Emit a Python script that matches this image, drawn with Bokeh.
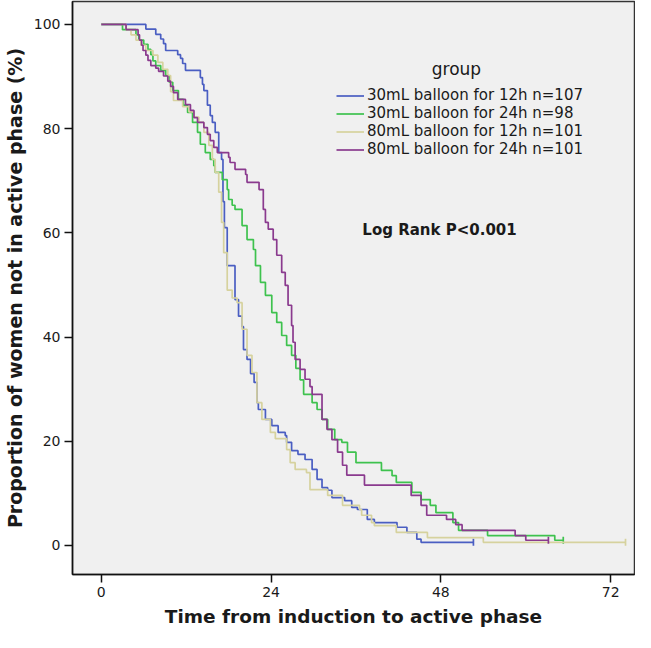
from bokeh.plotting import figure
from bokeh.models import Range1d, FixedTicker, Legend, LegendItem, Label
from bokeh.embed import file_html
from bokeh.resources import INLINE
import math

# ---- data ----
groups = ["30mL balloon for 12h n=107", "30mL balloon for 24h n=98",
          "80mL balloon for 12h n=101", "80mL balloon for 24h n=101"]
colors = ["#4A5EC2", "#3EC24E", "#D6D29E", "#8A3A8E"]

t_30_12 = [0, 6.3, 7.7, 8.4, 8.8, 9.1, 10.8, 11.2, 11.5, 11.9, 14.0, 14.3, 14.5, 15.0, 15.4,
           15.7, 16.1, 16.6, 17.0, 17.2, 17.4, 17.8, 18.9, 19.4, 19.9, 20.1, 20.6, 21.1, 21.6,
           22.0, 22.2, 23.2, 24.1, 25.0, 26.0, 26.2, 26.9, 27.8, 28.8, 29.8, 30.5, 31.2, 32.0,
           32.6, 34.4, 35.4, 36.2, 37.6, 38.6, 41.8, 43.2, 44.6, 45.2, 52.6]
s_30_12 = [100, 99.1, 98.1, 97.2, 96.3, 95.0, 94.2, 93.5, 92.5, 91.2, 89.8, 88.5, 87.3, 84.5, 82.5,
           81.2, 79.3, 75.4, 74.1, 66.0, 61.0, 53.7, 47.2, 44.0, 42.0, 37.6, 35.7, 33.0, 31.3,
           27.4, 26.1, 24.2, 23.0, 21.7, 21.1, 19.8, 18.2, 17.5, 16.5, 14.6, 12.7, 11.1, 10.6,
           9.2, 8.6, 7.3, 6.9, 5.0, 4.4, 3.5, 2.5, 1.2, 0.6, 0.6]

t_30_24 = [0, 3.0, 4.9, 5.3, 6.0, 6.6, 7.0, 7.3, 7.7, 8.4, 9.1, 9.6, 10.1, 10.9, 11.6, 12.2,
           12.9, 13.6, 14.0, 14.7, 15.4, 15.9, 16.1, 17.1, 17.8, 18.0, 18.5, 18.9, 19.9, 20.6,
           21.5, 21.8, 22.5, 23.2, 24.1, 24.8, 25.5, 26.2, 26.9, 27.5, 28.1, 28.6, 29.8, 30.5,
           31.2, 32.0, 33.0, 34.0, 34.8, 36.0, 39.6, 41.1, 41.7, 43.9, 45.2, 46.5, 47.3, 49.7,
           50.5, 54.6, 64.1, 65.3]
s_30_24 = [100, 99.0, 98.0, 97.0, 96.2, 95.2, 94.2, 93.0, 92.1, 91.2, 90.2, 88.9, 87.3, 85.6, 84.5, 83.1,
           81.2, 79.3, 77.0, 75.4, 74.1, 72.9, 71.6, 70.2, 68.3, 66.4, 65.3, 64.5, 61.4, 58.7,
           56.8, 53.7, 50.5, 48.0, 44.7, 42.8, 40.3, 38.4, 36.5, 34.0, 31.8, 29.0, 27.4, 26.1,
           24.2, 22.3, 20.3, 19.8, 17.9, 15.9, 14.4, 13.4, 12.1, 10.2, 8.8, 7.7, 6.3, 4.4,
           2.9, 1.9, 1.0, 1.0]

t_80_12 = [0, 3.5, 4.2, 4.9, 5.6, 6.3, 7.3, 8.0, 8.7, 9.4, 9.8, 10.2, 11.5, 12.4, 13.1, 13.8,
           14.5, 15.2, 15.7, 16.1, 16.6, 17.0, 17.3, 17.8, 18.5, 19.2, 19.9, 20.6, 21.3, 22.0,
           22.7, 23.9, 24.6, 26.2, 26.7, 27.4, 29.0, 29.5, 32.0, 34.1, 36.5, 36.8, 38.2, 38.6,
           41.7, 46.1, 54.0, 74.1]
s_80_12 = [100, 99.0, 98.0, 97.0, 96.0, 95.0, 94.1, 92.7, 91.4, 90.2, 87.1, 85.4, 84.2, 83.2, 82.2, 81.2,
           79.3, 76.8, 74.1, 71.6, 67.8, 62.0, 56.2, 49.0, 47.5, 46.6, 41.5, 36.5, 33.2, 27.4,
           24.2, 21.7, 20.5, 18.4, 15.9, 14.6, 14.0, 10.7, 9.6, 7.7, 6.9, 5.8, 4.4, 3.8,
           2.5, 1.5, 0.6, 0.6]

t_80_24 = [0, 3.5, 5.2, 5.4, 5.7, 5.9, 6.3, 6.6, 7.0, 7.7, 8.1, 8.8, 9.4, 9.8, 10.2, 10.8,
           11.9, 12.6, 13.1, 13.6, 14.5, 15.0, 15.4, 15.9, 16.4, 18.0, 18.2, 18.9, 20.4, 20.6,
           22.3, 22.9, 23.2, 23.6, 24.3, 24.8, 25.5, 26.0, 26.4, 26.9, 27.1, 27.4, 28.1, 28.8,
           29.5, 29.8, 31.2, 31.9, 32.6, 33.4, 34.1, 34.7, 37.2, 43.8, 45.2, 46.0, 48.8, 50.1,
           51.0, 58.5, 60.0, 63.2]
s_80_24 = [100, 99.0, 98.0, 97.0, 96.0, 95.0, 94.1, 93.1, 92.1, 91.6, 91.0, 90.1, 89.1, 88.1, 86.9, 85.6,
           84.6, 83.5, 82.1, 81.2, 80.2, 78.9, 77.7, 76.4, 75.4, 74.5, 73.5, 72.2, 71.2, 69.7,
           68.3, 64.5, 62.0, 60.7, 58.7, 55.7, 52.4, 49.9, 46.1, 42.2, 39.0, 35.7, 33.8, 31.9,
           30.5, 29.0, 24.2, 22.3, 20.3, 17.9, 15.4, 13.5, 11.6, 9.6, 7.7, 5.8, 5.0, 4.0,
           2.9, 1.9, 1.0, 1.0]

series_t = [t_30_12, t_30_24, t_80_12, t_80_24]
series_s = [s_30_12, s_30_24, s_80_12, s_80_24]

x_ticks = [0, 24, 48, 72]
y_ticks = [0, 20, 40, 60, 80, 100]

FONT = "DejaVu Sans"
TXT = "#1a1a1a"

p = figure(width=635, height=632, output_backend="svg", toolbar_location=None,
           x_range=Range1d(-4.07, 75.37), y_range=Range1d(-5.57, 104.4),
           min_border_left=68, min_border_right=1, min_border_top=1, min_border_bottom=58)

p.background_fill_color = "#F0F0F0"
p.border_fill_color = "white"
p.outline_line_color = "#333333"
p.outline_line_width = 1.5
p.xgrid.visible = False
p.ygrid.visible = False

for ax in (p.xaxis[0], p.yaxis[0]):
    ax.axis_line_color = "#111111"
    ax.axis_line_width = 1.5
    ax.major_tick_line_color = "#111111"
    ax.major_tick_line_width = 1.5
    ax.major_tick_out = 8
    ax.major_tick_in = 0
    ax.minor_tick_line_color = None
    ax.major_label_text_font = FONT
    ax.major_label_text_font_size = "14px"
    ax.major_label_text_color = TXT
    ax.major_label_standoff = 4
    ax.axis_label_text_font = FONT
    ax.axis_label_text_font_style = "bold"
    ax.axis_label_text_color = TXT

p.xaxis.ticker = FixedTicker(ticks=x_ticks)
p.yaxis.ticker = FixedTicker(ticks=y_ticks)
p.xaxis.axis_label = "Time from induction to active phase"
p.yaxis.axis_label = "Proportion of women not in active phase (%)"
p.xaxis.axis_label_text_font_size = "18.5px"
p.yaxis.axis_label_text_font_size = "19px"
p.xaxis.axis_label_standoff = 6
p.yaxis.axis_label_standoff = 5

items = []
for name, col, ts, ss in zip(groups, colors, series_t, series_s):
    r = p.step(ts, ss, mode="after", line_color=col, line_width=1.7)
    p.scatter([ts[-1]], [ss[-1]], marker="dash", angle=math.pi / 2, size=7,
              line_color=col, line_width=1.7)
    items.append(LegendItem(label=name, renderers=[r]))

legend = Legend(items=items, location=(264, 416), padding=0, margin=0, spacing=0,
                label_height=17, glyph_height=17, glyph_width=28, label_standoff=3,
                border_line_color=None, background_fill_alpha=0,
                label_text_font=FONT, label_text_font_size="15px", label_text_color=TXT)
p.add_layout(legend, "center")

p.add_layout(Label(x=50.2, y=91.4, text="group", text_align="center", text_baseline="middle",
                   text_font=FONT, text_font_size="17px", text_color=TXT))
p.add_layout(Label(x=36.9, y=60.5, text="Log Rank P<0.001", text_align="left",
                   text_baseline="middle", text_font=FONT, text_font_size="15px",
                   text_font_style="bold", text_color=TXT))

open("out.html", "w").write(file_html(p, INLINE))
